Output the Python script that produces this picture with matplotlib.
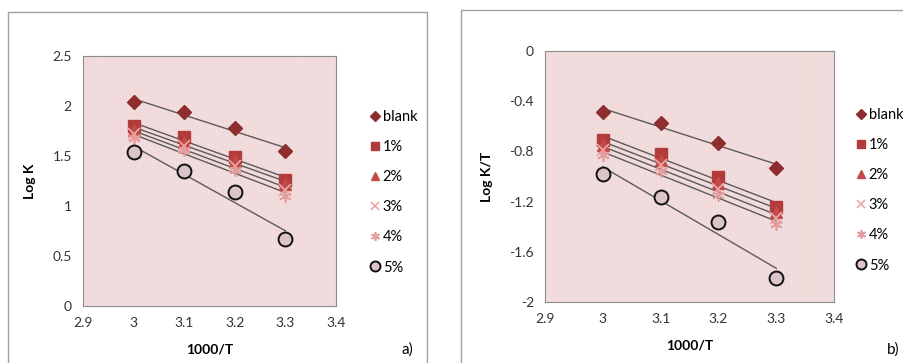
"""
Arrhenius / transition-state plots: Log K and Log K/T vs 1000/T.
"""

import numpy as np
import matplotlib.pyplot as plt
from matplotlib.patches import Rectangle

plt.rcParams['font.family'] = ['Lato', 'DejaVu Sans']

# data
inv_t = [3.0, 3.1, 3.2, 3.3]
series = ['blank', '1%', '2%', '3%', '4%', '5%']

log_k = {
    'blank': [2.04, 1.94, 1.78, 1.55],
    '1%': [1.80, 1.69, 1.49, 1.26],
    '2%': [1.76, 1.64, 1.45, 1.22],
    '3%': [1.72, 1.60, 1.40, 1.16],
    '4%': [1.68, 1.56, 1.36, 1.10],
    '5%': [1.54, 1.35, 1.14, 0.67],
}
log_k_t = {
    'blank': [-0.49, -0.57, -0.73, -0.93],
    '1%': [-0.71, -0.82, -1.00, -1.24],
    '2%': [-0.75, -0.87, -1.05, -1.28],
    '3%': [-0.79, -0.91, -1.10, -1.33],
    '4%': [-0.83, -0.96, -1.15, -1.38],
    '5%': [-0.98, -1.16, -1.36, -1.81],
}

styles = {
    'blank': dict(marker='D', color='#8E2D2D', ms=7, mec='#8E2D2D'),
    '1%': dict(marker='s', color='#B23B3B', ms=8, mec='#B23B3B'),
    '2%': dict(marker='^', color='#C24B48', ms=8, mec='#C24B48'),
    '3%': dict(marker='x', color='#EBA9A9', ms=8, mec='#EBA9A9', mew=1.2),
    '4%': dict(marker=(6, 2, 0), color='#E49C9C', ms=9, mec='#E49C9C', mew=1.2),
    '5%': dict(marker='o', color='#DCC5CA', ms=10, mec='#111111', mew=1.4),
}

fig = plt.figure(figsize=(9.04, 3.63), dpi=100)
W, H = 904, 363


def px_axes(x0, y0, x1, y1):
    # pixel box (top-left origin) -> figure fraction
    return fig.add_axes([x0 / W, 1 - y1 / H, (x1 - x0) / W, (y1 - y0) / H])


def draw_panel(ax, data, ylim, yticks, ylabel, tag, tag_x, leg_x, leg_y):
    ax.set_facecolor('#F3DFDF')
    ax.add_patch(Rectangle((0, 0), 1, 1, transform=ax.transAxes, fill=False,
                           hatch='||||||', edgecolor='#F0D8D9', lw=0, zorder=0))
    handles = []
    for name in series:
        y = data[name]
        slope, icpt = np.polyfit(inv_t, y, 1)
        fit = np.polyval([slope, icpt], inv_t)
        ax.plot(inv_t, fit, color='#5A5A5A', lw=1.0, zorder=2)
        h, = ax.plot(inv_t, y, ls='none', zorder=3, **styles[name])
        handles.append(h)

    ax.set_xlim(2.9, 3.4)
    ax.set_xticks([2.9, 3.0, 3.1, 3.2, 3.3, 3.4])
    ax.set_xticklabels(['2.9', '3', '3.1', '3.2', '3.3', '3.4'])
    ax.set_ylim(*ylim)
    ax.set_yticks(yticks)
    ax.set_yticklabels([f'{v:g}' for v in yticks])
    ax.tick_params(length=0, labelsize=10, colors='#333333', pad=8)
    for s in ax.spines.values():
        s.set_color('#8C8C8C')
        s.set_linewidth(0.8)
    ax.set_xlabel('1000/T', fontsize=10, fontweight='bold', labelpad=10)
    ax.set_ylabel(ylabel, fontsize=10, fontweight='bold', labelpad=12)

    fig.legend(handles, series, loc='upper left',
               bbox_to_anchor=(leg_x / W, 1 - leg_y / H), frameon=False,
               fontsize=10.5, labelspacing=1.1, handlelength=0.6,
               handletextpad=0.25, borderpad=0, markerscale=0.72)
    fig.text(tag_x / W, 1 - 350 / H, tag, fontsize=11, ha='center', va='center')


# outer frames of the two panels
fig.add_artist(Rectangle((8 / W, -0.05), (427 - 8) / W, 1 - 12 / H + 0.05,
                         transform=fig.transFigure, fill=False,
                         edgecolor='#A0A0A0', lw=1.0))
fig.add_artist(Rectangle((461 / W, -0.05), 0.6, 1 - 10 / H + 0.05,
                         transform=fig.transFigure, fill=False,
                         edgecolor='#A0A0A0', lw=1.0))

ax1 = px_axes(83, 56, 336, 306)
draw_panel(ax1, log_k, (0, 2.5), [0, 0.5, 1, 1.5, 2, 2.5], 'Log K', 'a)', 407, 363, 103)

ax2 = px_axes(545, 51, 834, 302)
draw_panel(ax2, log_k_t, (-2, 0), [-2, -1.6, -1.2, -0.8, -0.4, 0], 'Log K/T', 'b)', 893, 849, 101)

fig.savefig('out.png', dpi=100)
